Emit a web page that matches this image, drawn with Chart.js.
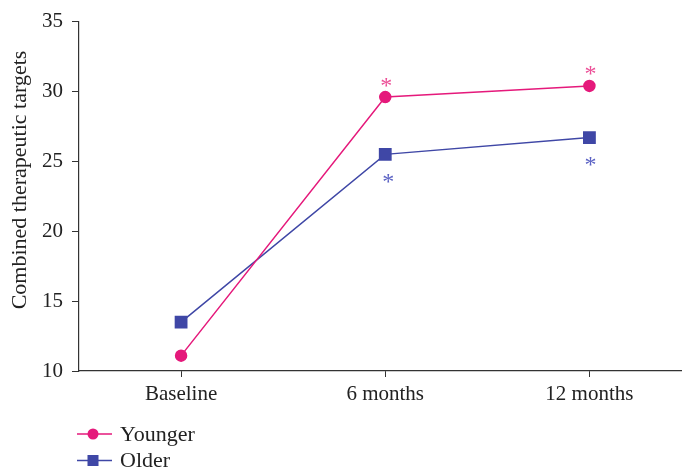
<!DOCTYPE html>
<html>
<head>
<meta charset="utf-8">
<script src="https://cdn.jsdelivr.net/npm/chart.js@4"></script>
<style>
html,body{margin:0;padding:0;background:#fff;overflow:hidden;width:720px;}
#wrap{position:relative;width:701px;height:468px;}
canvas{display:block;}
</style>
</head>
<body>
<div id="wrap"><canvas id="c"></canvas></div>
<script>
const categories = ["Baseline", "6 months", "12 months"];
const younger = [11.1, 29.6, 30.4];
const older = [13.5, 25.5, 26.7];
const seriesNames = ["Younger", "Older"];
const yTicks = [10, 15, 20, 25, 30, 35];
const yTitle = "Combined therapeutic targets";
// significance markers: [datasetIndex, pointIndex, side]
const sigMarks = [[0, 1, "above"], [0, 2, "above"], [1, 1, "below"], [1, 2, "below"]];

const PINK = "#E5197B", BLUE = "#3F47A6";
const PINK_AST = "#EC4F97", BLUE_AST = "#5B62C4";
const FONT = "'Liberation Serif', 'Times New Roman', serif";

const extras = {
  id: "extras",
  afterDatasetsDraw(chart) {
    const ctx = chart.ctx;
    ctx.save();
    // y-axis title
    ctx.save();
    ctx.translate(20, 180);
    ctx.rotate(-Math.PI / 2);
    ctx.font = "22px " + FONT;
    ctx.fillStyle = "#222";
    ctx.textAlign = "center";
    ctx.textBaseline = "middle";
    ctx.fillText(yTitle, 0, 0);
    ctx.restore();

    ctx.font = "24px " + FONT;
    ctx.textAlign = "center";
    ctx.textBaseline = "alphabetic";
    sigMarks.forEach(([di, pi, side]) => {
      const el = chart.getDatasetMeta(di).data[pi];
      ctx.fillStyle = di === 0 ? PINK_AST : BLUE_AST;
      const cy = side === "above" ? el.y - 17 : el.y + 22;
      const cx = el.x + (side === "below" && pi === 1 ? 3 : 1);
      ctx.fillText("*", cx, cy + 12.5);
    });
    // legend
    const items = chart.data.datasets;
    items.forEach((ds, i) => {
      const y = 434 + i * 26.5;
      ctx.strokeStyle = ds.borderColor;
      ctx.lineWidth = 1.5;
      ctx.beginPath();
      ctx.moveTo(77, y); ctx.lineTo(112, y); ctx.stroke();
      ctx.fillStyle = ds.backgroundColor;
      if (ds.pointStyle === "circle") {
        ctx.beginPath(); ctx.arc(93, y, 5.5, 0, Math.PI * 2); ctx.fill();
      } else {
        ctx.fillRect(93 - 5.5, y - 5.5, 11, 11);
      }
      ctx.fillStyle = "#222";
      ctx.font = "22px " + FONT;
      ctx.textAlign = "left";
      ctx.textBaseline = "middle";
      ctx.fillText(ds.label, 120, y + 1);
    });
    ctx.restore();
  }
};

new Chart(document.getElementById("c"), {
  type: "line",
  data: {
    labels: categories,
    datasets: [
      { label: seriesNames[0], data: younger, borderColor: PINK, backgroundColor: PINK,
        borderWidth: 1.5, pointStyle: "circle", pointRadius: 5.5, pointHoverRadius: 5.5, tension: 0 },
      { label: seriesNames[1], data: older, borderColor: BLUE, backgroundColor: BLUE,
        borderWidth: 1.5, pointStyle: "rect", pointRadius: 8, pointHoverRadius: 8, tension: 0 }
    ]
  },
  options: {
    responsive: true,
    maintainAspectRatio: false,
    animation: false,
    events: [],
    layout: { padding: { top: 20, right: 0, bottom: 0, left: 0 } },
    plugins: { legend: { display: false }, tooltip: { enabled: false } },
    scales: {
      x: {
        type: "category",
        offset: true,
        grid: { display: true, drawOnChartArea: false, offset: false, color: "#333", tickLength: 6 },
        border: { display: true, color: "#333", width: 1.2 },
        ticks: { color: "#222", font: { family: FONT, size: 21 }, padding: 5, maxRotation: 0 },
        afterFit(s) { s.height = 97; }
      },
      y: {
        min: 10, max: 35,
        afterBuildTicks(s) { s.ticks = yTicks.map(v => ({ value: v })); },
        grid: { display: true, drawOnChartArea: false, color: "#333", tickLength: 7 },
        border: { display: true, color: "#333", width: 1.2 },
        ticks: { color: "#222", font: { family: FONT, size: 21 }, padding: 9 },
        title: { display: false },
        afterFit(s) { s.width = 79; }
      }
    }
  },
  plugins: [extras]
});
</script>
</body>
</html>
